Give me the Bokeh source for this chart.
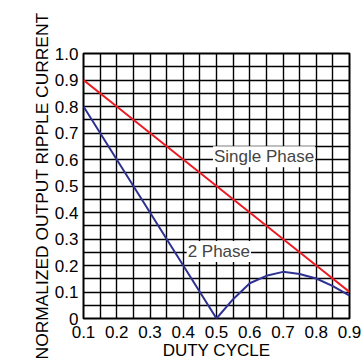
from bokeh.plotting import figure
from bokeh.models import FixedTicker, Label, CustomJSTickFormatter, Range1d
from bokeh.embed import file_html
from bokeh.resources import INLINE

# ---- data ----
duty = [0.1, 0.2, 0.3, 0.4, 0.5, 0.6, 0.7, 0.8, 0.9]
single_phase = [0.9, 0.8, 0.7, 0.6, 0.5, 0.4, 0.3, 0.2, 0.1]

duty_2ph = [0.1, 0.2, 0.3, 0.4, 0.5, 0.55, 0.6, 0.65, 0.7, 0.75, 0.8, 0.85, 0.9]
two_phase = [0.8, 0.6, 0.4, 0.2, 0.0, 0.073, 0.133, 0.161, 0.176, 0.168, 0.151, 0.122, 0.086]

x_ticks = [0.1, 0.2, 0.3, 0.4, 0.5, 0.6, 0.7, 0.8, 0.9]
y_ticks = [0.0, 0.1, 0.2, 0.3, 0.4, 0.5, 0.6, 0.7, 0.8, 0.9, 1.0]
x_grid = [0.1 + 0.05 * i for i in range(17)]
y_grid = [0.05 * i for i in range(21)]

x_title = "DUTY CYCLE"
y_title = "NORMALIZED OUTPUT RIPPLE CURRENT"

FONT = "Liberation Sans"
RED = "#EC1C24"
BLUE = "#2E3192"

p = figure(width=362, height=364, output_backend="svg", toolbar_location=None,
           x_range=Range1d(0.1, 0.9), y_range=Range1d(0.0, 1.0),
           min_border_left=83, min_border_right=13, min_border_top=53, min_border_bottom=46)
p.background_fill_color = "white"
p.border_fill_color = "white"
p.outline_line_color = "black"
p.outline_line_width = 2
p.outline_line_alpha = 1

p.xgrid.ticker = FixedTicker(ticks=x_grid)
p.ygrid.ticker = FixedTicker(ticks=y_grid)
for g in (p.xgrid, p.ygrid):
    g.grid_line_color = "black"
    g.grid_line_width = 1.4
    g.grid_line_alpha = 1

p.xaxis.ticker = FixedTicker(ticks=x_ticks)
p.yaxis.ticker = FixedTicker(ticks=y_ticks)
p.xaxis.formatter = CustomJSTickFormatter(code="return tick.toFixed(1);")
p.yaxis.formatter = CustomJSTickFormatter(code="return Math.abs(tick) < 1e-9 ? '0' : tick.toFixed(1);")
for ax in (p.xaxis, p.yaxis):
    ax.axis_line_color = None
    ax.major_tick_line_color = None
    ax.minor_tick_line_color = None
    ax.major_tick_out = 0
    ax.major_tick_in = 0
    ax.major_label_text_font = FONT
    ax.major_label_text_font_size = "17px"
    ax.major_label_text_color = "black"
    ax.axis_label_text_font = FONT
    ax.axis_label_text_font_size = "17px"
    ax.axis_label_text_font_style = "normal"
    ax.axis_label_text_color = "black"
p.yaxis.axis_label_text_font_size = "17.4px"
p.xaxis.major_label_standoff = 7
p.yaxis.major_label_standoff = 5
p.xaxis.axis_label = x_title
p.yaxis.axis_label = y_title
p.xaxis.axis_label_standoff = 0
p.yaxis.axis_label_standoff = 0

p.line(duty, single_phase, line_color=RED, line_width=2)
p.line(duty_2ph, two_phase, line_color=BLUE, line_width=2)

p.add_layout(Label(x=0.643, y=0.61, text="Single Phase", text_font=FONT,
                   text_font_size="17px", text_align="center", text_baseline="middle",
                   background_fill_color="white", padding=1))
p.add_layout(Label(x=0.507, y=0.253, text="2 Phase", text_font=FONT,
                   text_font_size="17px", text_align="center", text_baseline="middle",
                   background_fill_color="white", padding=1))

open("out.html", "w").write(file_html(p, INLINE))
